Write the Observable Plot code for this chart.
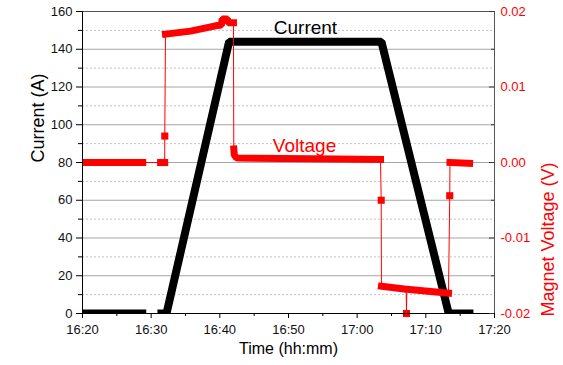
<!DOCTYPE html>
<html>
<head>
<meta charset="utf-8">
<script src="https://cdn.jsdelivr.net/npm/d3@7"></script>
<script src="https://cdn.jsdelivr.net/npm/@observablehq/plot@0.6"></script>
<style>
  body { margin: 0; background: #fff; }
</style>
</head>
<body>
<div id="chart"></div>
<script>
// ---------- data ----------
const xTickLabels = ["16:20", "16:30", "16:40", "16:50", "17:00", "17:10", "17:20"];
const xMinorTickLabels = ["16:25", "16:35", "16:45", "16:55", "17:05", "17:15"];
const currentTicks = [0, 20, 40, 60, 80, 100, 120, 140, 160];
const currentMinorTicks = [10, 30, 50, 70, 90, 110, 130, 150];
const voltageTicks = [-0.02, -0.01, 0.0, 0.01, 0.02];
const voltageTickLabels = ["-0.02", "-0.01", "0.00", "0.01", "0.02"];
const voltageMinorTicks = [-0.015, -0.005, 0.005, 0.015];

// Current (A)  (null = gap in the record)
const currentTimes  = ["16:20:00", "16:29:17", "16:30:00", "16:30:55", "16:32:14", "16:41:21", "17:03:32", "17:13:20", "17:16:56"];
const currentValues = [0, 0, null, 0, 0, 144, 144, 0, 0];

// Magnet voltage (V); segment 0 = isolated sample, >0 = dense run of samples
const voltageTimes = [
  "16:20:30", "16:28:46",
  "16:31:23", "16:31:58", "16:31:59",
  "16:32:05", "16:35:44", "16:39:22", "16:40:14", "16:40:20", "16:41:07", "16:41:12", "16:41:59",
  "16:42:02", "16:42:06", "16:42:26", "16:53:12", "17:03:24",
  "17:03:30",
  "17:03:32", "17:07:08", "17:07:11", "17:07:14", "17:13:18",
  "17:13:29",
  "17:13:31", "17:16:22"
];
const voltageValues = [
  0.0000, 0.0000,
  0.0000, 0.0000, 0.0035,
  0.0170, 0.0174, 0.0181, 0.0182, 0.0190, 0.0190, 0.0185, 0.0185,
  0.0018, 0.0010, 0.0006, 0.0005, 0.0004,
  -0.0050,
  -0.0164, -0.0168, -0.0200, -0.0168, -0.0173,
  -0.0044,
  0.0000, -0.0001
];
const voltageSegments = [
  1, 1,
  0, 0, 0,
  2, 2, 2, 2, 2, 2, 2, 2,
  3, 3, 3, 3, 3,
  0,
  4, 4, 0, 4, 4,
  0,
  5, 5
];

// in-chart labels
const labelTexts = ["Current", "Voltage"];
const labelTimes = ["16:52:28", "16:52:20"];
const labelCurrents = [151.5, 89];
const labelColors = ["black", "red"];

// ---------- helpers ----------
const toMin = s => { const [h, m, sec = 0] = s.split(":").map(Number); return h * 60 + m + sec / 60; };
const vToY = v => 80 + v * 4000;   // right axis (-0.02..0.02 V) mapped onto left axis (0..160 A)

const W = 563, H = 365;
const mL = 82, mR = 69, mT = 11, mB = 52;
const plotW = W - mL - mR, plotH = H - mT - mB;

const currentData = currentTimes.map((t, i) => ({t: toMin(t), c: currentValues[i]}));
const voltData = voltageTimes.map((t, i) => ({t: toMin(t), y: vToY(voltageValues[i]), seg: voltageSegments[i]}));
const labelData = labelTexts.map((s, i) => ({s, t: toMin(labelTimes[i]), c: labelCurrents[i], col: labelColors[i]}));

const xTicks = xTickLabels.map(toMin);
const xMinor = xMinorTickLabels.map(toMin);
const xLabelOf = new Map(xTicks.map((d, i) => [d, xTickLabels[i]]));
const vTickPos = voltageTicks.map(vToY);
const vLabelOf = new Map(vTickPos.map((d, i) => [d, voltageTickLabels[i]]));
const vMinorPos = voltageMinorTicks.map(vToY);

const font = "'Liberation Sans', Arial, Helvetica, sans-serif";

const chart = Plot.plot({
  width: W, height: H,
  marginLeft: mL, marginRight: mR, marginTop: mT, marginBottom: mB,
  style: {fontFamily: font, fontSize: "13px", background: "white", color: "black"},
  x: {type: "linear", domain: [toMin("16:20"), toMin("17:20")], axis: null},
  y: {domain: [0, 160], axis: null},
  marks: [
    // grid
    Plot.gridY(currentMinorTicks, {stroke: "#c4c4c4", strokeOpacity: 1, strokeDasharray: "2,2"}),
    Plot.gridY(currentTicks.filter(d => d > 0 && d < 160), {stroke: "#a6a6a6", strokeOpacity: 1}),
    // current
    Plot.line(currentData, {x: "t", y: "c", stroke: "black", strokeWidth: 8, strokeLinejoin: "miter", strokeLinecap: "butt", clip: true}),
    // voltage: thin connecting line, dense runs, isolated samples
    Plot.line(voltData, {x: "t", y: "y", stroke: "red", strokeWidth: 1}),
    Plot.line(voltData.filter(d => d.seg > 0), {x: "t", y: "y", z: "seg", stroke: "red", strokeWidth: 7, strokeLinecap: "square", strokeLinejoin: "miter"}),
    Plot.dot(voltData.filter(d => d.seg === 0), {x: "t", y: "y", symbol: "square", fill: "red", r: 4}),
    // in-chart labels
    Plot.text(labelData, {x: "t", y: "c", text: "s", fill: "col", fontSize: 19}),
    // frame and axis lines
    Plot.frame({stroke: "#555"}),
    Plot.ruleX([toMin("16:20")], {stroke: "black"}),
    Plot.ruleY([0], {stroke: "black"}),
    // bottom axis
    Plot.axisX(xTicks, {anchor: "bottom", tickSize: 5, tickPadding: 6, tickFormat: d => xLabelOf.get(d), label: null, fill: "#111"}),
    Plot.tickX(xMinor, {x: d => d, stroke: "black", insetTop: plotH, insetBottom: -3}),
    // left axis
    Plot.axisY(currentTicks, {anchor: "left", tickSize: 6, tickPadding: 4, label: null, fill: "#111"}),
    Plot.tickY(currentMinorTicks, {y: d => d, stroke: "black", insetLeft: -4, insetRight: plotW}),
    // right axis (voltage)
    Plot.axisY(vTickPos, {anchor: "right", tickSize: 0, tickPadding: 6, tickFormat: d => vLabelOf.get(d), label: null, fill: "red"}),
    Plot.tickY(vTickPos, {y: d => d, stroke: "#333", insetLeft: plotW - 5}),
    Plot.tickY(vMinorPos, {y: d => d, stroke: "#333", insetLeft: plotW - 3}),
    // axis titles
    Plot.text(["Current (A)"], {text: d => d, frameAnchor: "left", dx: -44, rotate: -90, fontSize: 18, fill: "black"}),
    Plot.text(["Magnet Voltage (V)"], {text: d => d, frameAnchor: "right", dx: 54, rotate: -90, fontSize: 18, fill: "red"}),
    Plot.text(["Time (hh:mm)"], {text: d => d, frameAnchor: "bottom", dy: 40, fontSize: 16, fill: "black"})
  ]
});
document.getElementById("chart").appendChild(chart);
</script>
</body>
</html>
